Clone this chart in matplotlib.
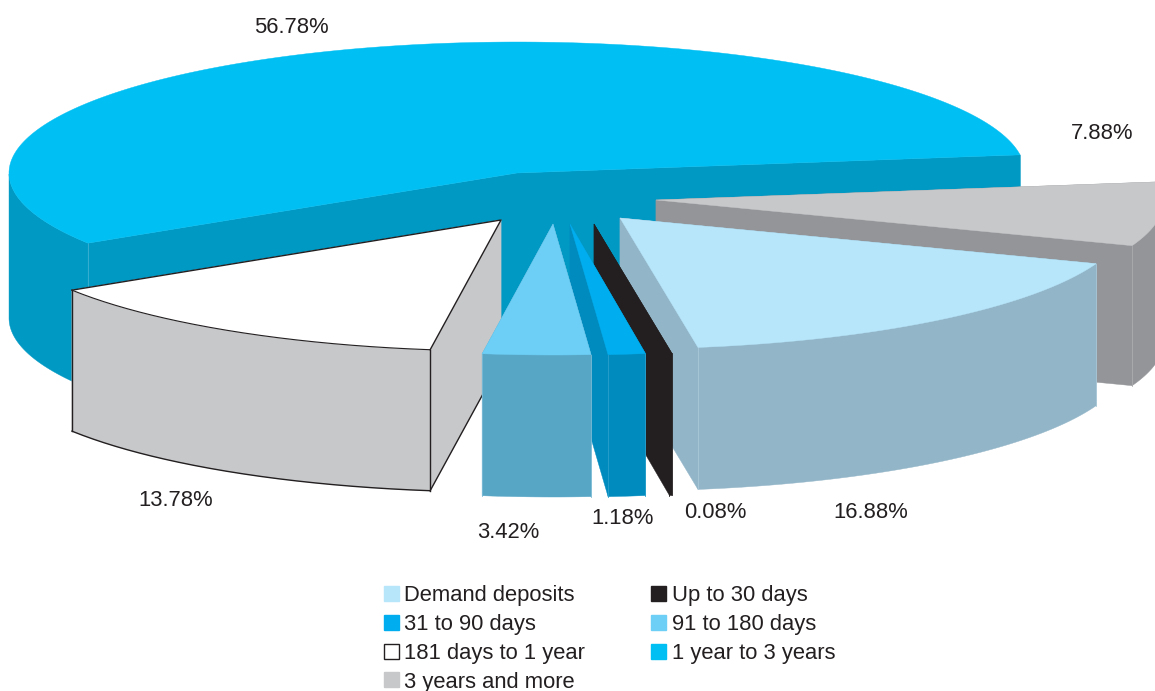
import matplotlib
matplotlib.use('Agg')
import matplotlib.pyplot as plt
from matplotlib.patches import Polygon, Patch
import numpy as np

plt.rcParams['font.family'] = ['Liberation Sans', 'DejaVu Sans']

# data
categories = ['Demand deposits', 'Up to 30 days', '31 to 90 days', '91 to 180 days',
              '181 days to 1 year', '1 year to 3 years', '3 years and more']
shares = [16.88, 0.08, 1.18, 3.42, 13.78, 56.78, 7.88]

# styles
top_colors = ['#b7e5fa', '#231f20', '#00aeef', '#6dcff6', '#ffffff', '#00bff3', '#c7c8ca']
wall_colors = ['#92b5c8', '#231f20', '#008bbf', '#58a6c6', '#c7c8ca', '#0099c4', '#939598']
seam_colors = ['#a9c8d8', '#231f20', '#2aa0cc', '#7cbcd6', '#231f20', '#3fb2d3', '#aaacae']

# layout, pixels
cx, cy = 517, 173
rx, ry = 508, 131
start_angle = -20.4   # clockwise from here
explode_x = [103, 77, 53, 36, -16, 0, 139]
explode_y = [45, 51, 51, 51, 47, 0, 27]
depth = [142, 142, 142, 142, 141, 145, 140]
draw_order = [5, 6, 0, 1, 2, 4, 3]
label_x = [871, 715, 623, 508, 176, 291, 1102]
label_y = [513, 513, 519, 533, 500, 27, 133]

fig = plt.figure(figsize=(11.55, 6.91), dpi=100)
ax = fig.add_axes([0, 0, 1, 1])
ax.set_xlim(0, 1155)
ax.set_ylim(691, 0)
ax.axis('off')

# angles of each slice, going clockwise
ends = start_angle - np.cumsum(np.array(shares) / sum(shares) * 360)
starts = np.concatenate(([start_angle], ends[:-1]))


def draw_slice(i, z):
    ax0 = cx + explode_x[i]
    ay0 = cy + explode_y[i]
    d = depth[i]
    th = np.radians(np.linspace(starts[i], ends[i], 200))
    x = ax0 + rx * np.cos(th)
    y = ay0 - ry * np.sin(th)
    wc = wall_colors[i]
    # radial walls
    for k in (0, -1):
        ax.add_patch(Polygon([(ax0, ay0), (x[k], y[k]), (x[k], y[k] + d), (ax0, ay0 + d)],
                             fc=wc, ec=wc, lw=0.3, zorder=z))
    # outer wall, front half only
    front = np.sin(th) <= 0
    if front.any():
        xf = x[front]
        yf = y[front]
        ax.add_patch(Polygon(np.column_stack((np.r_[xf, xf[::-1]], np.r_[yf, yf[::-1] + d])),
                             fc=wc, ec=wc, lw=0.3, zorder=z))
    if i != 4:
        for k in (0, -1):
            ax.plot([x[k], x[k]], [y[k], y[k] + d], color=seam_colors[i], lw=0.6, zorder=z)
    # top
    ax.add_patch(Polygon(np.column_stack((np.r_[ax0, x], np.r_[ay0, y])),
                         fc=top_colors[i], ec=top_colors[i], lw=0.3, zorder=z))
    # the white slice has a black outline
    if i == 4:
        line = dict(color='#231f20', lw=1.0, zorder=z)
        ax.plot(np.r_[x[-1], ax0, x[0]], np.r_[y[-1], ay0, y[0]], **line)
        ax.plot([x[0], x[0]], [y[0], y[0] + d], **line)
        ax.plot([x[-1], x[-1]], [y[-1], y[-1] + d], **line)
        ax.plot(x, y + d, **line)
        ax.plot(x, y, color='#231f20', lw=0.8, zorder=z)
        ax.plot([x[0], ax0], [y[0] + d, ay0 + d], **line)


for n, i in enumerate(draw_order):
    draw_slice(i, 1 + n)

for i, v in enumerate(shares):
    ax.text(label_x[i], label_y[i], '%.2f%%' % v, ha='center', va='center',
            fontsize=15.8, color='#231f20', zorder=20)

handles = [Patch(fc=top_colors[i], ec='#231f20' if i == 4 else top_colors[i], lw=1.0)
           for i in [0, 2, 4, 6, 1, 3, 5]]
names = [categories[i] for i in [0, 2, 4, 6, 1, 3, 5]]
ax.legend(handles, names, ncol=2, loc='upper left', bbox_to_anchor=(384, 585.5),
          bbox_transform=ax.transData, frameon=False, fontsize=15.8,
          borderpad=0, borderaxespad=0, handlelength=0.68, handleheight=0.68,
          handletextpad=0.25, labelspacing=0.35, columnspacing=3.0,
          labelcolor='#231f20')

fig.savefig('out.png', dpi=100)
